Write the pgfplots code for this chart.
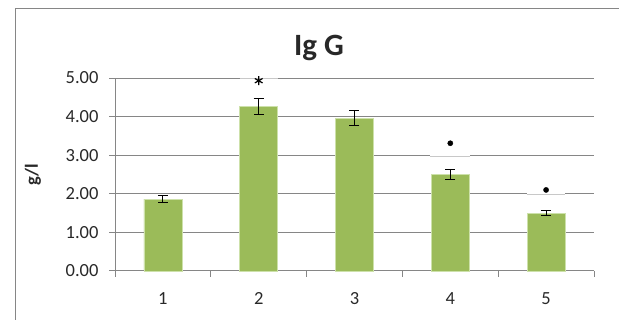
\documentclass[border=0pt]{standalone}
\usepackage{pgfplots}
\pgfplotsset{compat=1.18}
\usepackage{fontspec}
\setmainfont{Carlito}
\definecolor{barG}{RGB}{155,187,89}
\definecolor{barEdge}{RGB}{205,225,170}
\definecolor{gridG}{RGB}{134,134,134}
\definecolor{lightG}{RGB}{200,200,200}
\definecolor{txt}{RGB}{40,40,40}
\begin{document}
\begin{tikzpicture}[x=1pt,y=1pt]
\useasboundingbox (0pt,0pt) rectangle (619pt,-320pt);
\draw[gridG, line width=1pt] (15.5pt,-320pt) -- (15.5pt,-8.5pt) -- (619pt,-8.5pt);
\begin{axis}[
  at={(115pt,-271pt)}, anchor=south west,
  scale only axis, width=479pt, height=193pt,
  xmin=0.5, xmax=5.5, ymin=0, ymax=5,
  clip=false,
  axis x line=bottom, axis y line=left,
  axis line style={-, gridG, line width=1pt},
  ytick={0,1,2,3,4,5},
  ymajorgrids, grid style={gridG, line width=1pt},
  tick align=outside,
  major tick length=6pt,
  tick style={gridG, line width=1pt},
  xtick={0.5,1.5,2.5,3.5,4.5,5.5},
  xticklabels={},
  extra x ticks={1,2,3,4,5},
  extra x tick labels={1,2,3,4,5},
  extra x tick style={major tick length=0pt},
  /pgf/number format/assume math mode=true,
  yticklabel style={/pgf/number format/fixed, /pgf/number format/fixed zerofill, /pgf/number format/precision=2, font=\fontsize{18.5}{20}\selectfont, text=txt, xshift=-7pt},
  xticklabel style={font=\fontsize{18.5}{20}\selectfont, text=txt, yshift=-18pt},
  ylabel={\bfseries g/l},
  ylabel style={font=\fontsize{18.5}{20}\selectfont, text=txt, at={(axis description cs:0,0.5)}, anchor=center, yshift=82pt},
]
\addplot[ybar, bar width=38pt, fill=barG, draw=barEdge, line width=0.6pt,
  error bars/.cd, y dir=both, y explicit,
  error bar style={black, line width=1.1pt},
  error mark options={rotate=90, mark size=5pt, line width=1.1pt, black}]
  coordinates {(1,1.86) +- (0,0.09) (2,4.27) +- (0,0.21) (3,3.96) +- (0,0.195) (4,2.50) +- (0,0.125) (5,1.50) +- (0,0.065)};
% light segments (text box borders)
\addplot[white, line width=3pt] coordinates {(3.79,3.0) (4.205,3.0)};
\addplot[lightG, line width=1pt] coordinates {(3.79,2.97) (4.205,2.97)};
\addplot[white, line width=3pt] coordinates {(4.797,2.0) (5.197,2.0)};
\addplot[lightG, line width=1pt] coordinates {(4.797,1.97) (5.197,1.97)};
\addplot[white, line width=2pt] coordinates {(1.80,5.0) (2.20,5.0)};
\addplot[lightG, line width=1pt] coordinates {(1.80,5.0) (2.20,5.0)};
% significance marks
\addplot[only marks, mark=*, black, mark size=2.6pt] coordinates {(4,3.31) (5,2.10)};
\addplot[only marks, mark=asterisk, black, mark size=4.5pt, mark options={line width=1.2pt}] coordinates {(2,4.93)};
\end{axis}
\node[font=\fontsize{31}{34}\selectfont\bfseries, text=txt, anchor=base] at (319pt,-56pt) {Ig G};
\end{tikzpicture}
\end{document}
